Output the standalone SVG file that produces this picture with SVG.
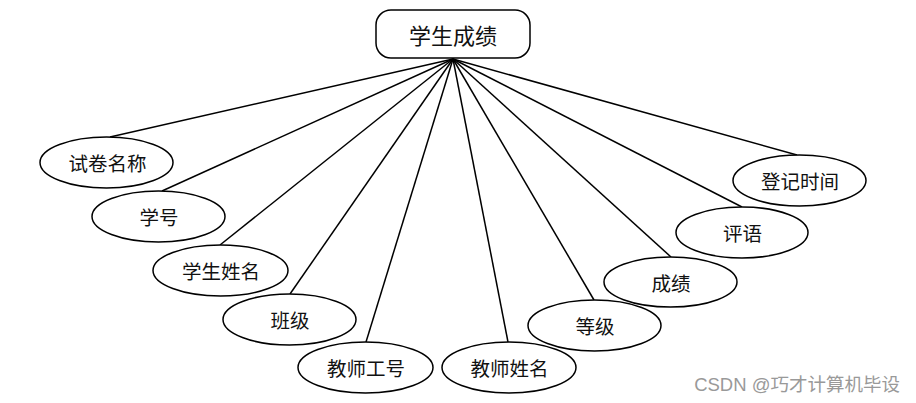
<svg xmlns="http://www.w3.org/2000/svg" width="916" height="403" viewBox="0 0 916 403">
<style>
.e{fill:#fff;stroke:#000;stroke-width:1.5}
.t{font-family:"Noto Sans CJK SC","Liberation Serif",sans-serif;font-size:19.5px;fill:#111;text-anchor:middle;dominant-baseline:central}
.c line{stroke:#000;stroke-width:1.5}
</style>
<rect width="916" height="403" fill="#fff"/>
<g class="c" id="connectors">
<line x1="453" y1="59" x2="110" y2="137"/>
<line x1="453" y1="59" x2="162" y2="191"/>
<line x1="453" y1="59" x2="220" y2="245"/>
<line x1="453" y1="59" x2="290" y2="294"/>
<line x1="453" y1="59" x2="366" y2="342"/>
<line x1="453" y1="59" x2="508" y2="342"/>
<line x1="453" y1="59" x2="594" y2="300"/>
<line x1="453" y1="59" x2="671" y2="257"/>
<line x1="453" y1="59" x2="742" y2="207"/>
<line x1="453" y1="59" x2="797" y2="155"/>
</g>
<g id="root"><rect x="376" y="10" width="154" height="48" rx="15" fill="#fff" stroke="#000" stroke-width="1.5"/><text class="t" x="453" y="34" style="font-size:22px">学生成绩</text></g>
<g id="n1"><ellipse class="e" cx="106.5" cy="162.5" rx="66.5" ry="25.5"/><text class="t" x="107.5" y="162.5">试卷名称</text></g>
<g id="n2"><ellipse class="e" cx="158.5" cy="216.5" rx="66.5" ry="25.5"/><text class="t" x="159" y="216.5">学号</text></g>
<g id="n3"><ellipse class="e" cx="220.5" cy="270.5" rx="67.5" ry="25.5"/><text class="t" x="221" y="270.5">学生姓名</text></g>
<g id="n4"><ellipse class="e" cx="289.5" cy="319.5" rx="66.5" ry="25.5"/><text class="t" x="290" y="319.5">班级</text></g>
<g id="n5"><ellipse class="e" cx="365.5" cy="367.5" rx="67.5" ry="25.5"/><text class="t" x="366" y="367.5">教师工号</text></g>
<g id="n6"><ellipse class="e" cx="509" cy="367.5" rx="67" ry="25.5"/><text class="t" x="509.5" y="367.5">教师姓名</text></g>
<g id="n7"><ellipse class="e" cx="594.5" cy="325.5" rx="66.5" ry="25.5"/><text class="t" x="595" y="325.5">等级</text></g>
<g id="n8"><ellipse class="e" cx="670.5" cy="282" rx="66.5" ry="25"/><text class="t" x="671" y="282">成绩</text></g>
<g id="n9"><ellipse class="e" cx="742" cy="232.5" rx="66" ry="25.5"/><text class="t" x="742.5" y="232.5">评语</text></g>
<g id="n10"><ellipse class="e" cx="799.5" cy="180.5" rx="66.5" ry="25.5"/><text class="t" x="800" y="180.5">登记时间</text></g>
<text x="900" y="384" font-family="'Liberation Sans','Noto Sans CJK SC',sans-serif" font-size="18.5" fill="#999" text-anchor="end" dominant-baseline="central">CSDN @巧才计算机毕设</text>
</svg>
